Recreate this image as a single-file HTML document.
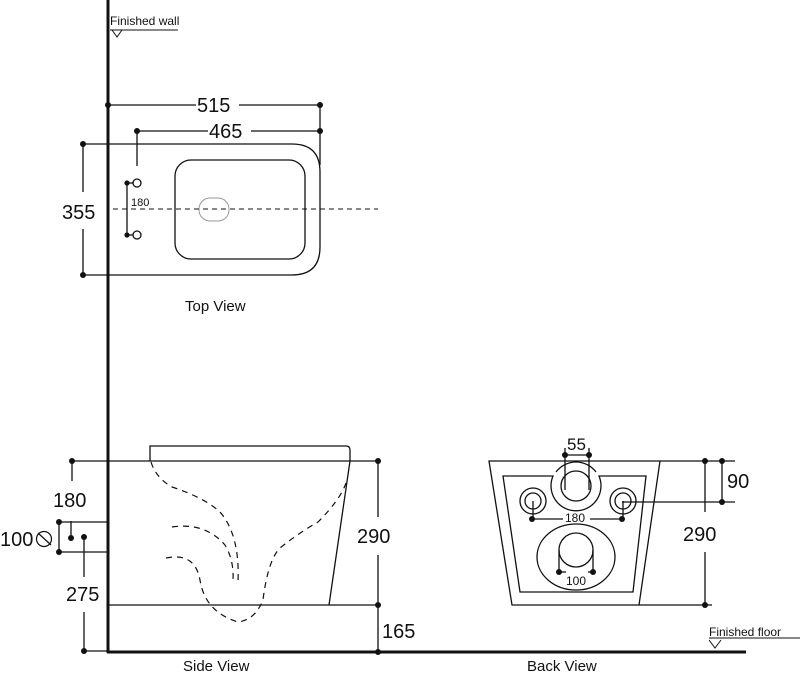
<!DOCTYPE html>
<html><head><style>
html,body{margin:0;padding:0;background:#fff;}
svg{display:block;}
text{font-family:"Liberation Sans",sans-serif;fill:#111;}
</style></head><body>
<svg width="800" height="674" viewBox="0 0 800 674" xmlns="http://www.w3.org/2000/svg">
<g stroke="#111" fill="none" stroke-width="1.3">
<line x1="108" y1="0" x2="108" y2="653" stroke-width="3"/>
<line x1="107" y1="652" x2="746" y2="652" stroke-width="3"/>
<line x1="110" y1="30" x2="178" y2="30" stroke-width="1"/>
<path d="M112 30 L117 37 L122 30" stroke-width="1"/>
<line x1="709" y1="638" x2="800" y2="638" stroke-width="1"/>
<path d="M709 640 L715 648 L721 640" stroke-width="1"/>

<line x1="108" y1="105" x2="196" y2="105"/><line x1="239" y1="105" x2="320" y2="105"/>
<line x1="137" y1="131" x2="208" y2="131"/><line x1="251" y1="131" x2="320" y2="131"/>
<line x1="320" y1="105" x2="320" y2="165"/>
<line x1="137" y1="131" x2="137" y2="166"/>
<path d="M83 144 L292 144 Q320 144 320 172 L320 247 Q320 275 292 275 L83 275"/>
<line x1="83" y1="144" x2="83" y2="192"/><line x1="83" y1="229" x2="83" y2="275"/>
<rect x="175" y="160" width="130" height="99" rx="16"/>
<rect x="199" y="198" width="30" height="23" rx="11" stroke="#999" stroke-width="1"/>
<line x1="113" y1="209" x2="378" y2="209" stroke-dasharray="5,4" stroke-width="1"/>
<line x1="127" y1="183" x2="127" y2="235"/>
<line x1="127" y1="183" x2="133" y2="183"/><line x1="127" y1="235" x2="133" y2="235"/>
<circle cx="137" cy="183" r="4"/><circle cx="137" cy="235" r="4"/>

<line x1="72" y1="461" x2="378" y2="461"/>
<path d="M150 461 L150 446 L346 446 Q350 446 350 450 L350 461"/>
<path d="M350 461 L329 605"/>
<line x1="108" y1="605" x2="378" y2="605"/>
<line x1="378" y1="461" x2="378" y2="517"/><line x1="378" y1="555" x2="378" y2="652"/>
<line x1="72" y1="461" x2="72" y2="481"/>
<line x1="59" y1="522" x2="108" y2="522"/><line x1="59" y1="552" x2="108" y2="552"/>
<line x1="59" y1="522" x2="59" y2="552"/>
<line x1="71" y1="521" x2="71" y2="538"/>
<line x1="84" y1="537" x2="84" y2="577"/><line x1="84" y1="612" x2="84" y2="651"/>
<line x1="84" y1="651" x2="108" y2="651"/>
<g stroke-dasharray="6,5" stroke-width="1.2">
<path d="M151 462 Q156 478 172 487 Q205 498 220 512 Q240 535 238 582"/>
<path d="M172 527 Q205 522 225 545 Q234 560 233 580"/>
<path d="M166 558 Q195 552 200 580 Q205 612 238 622 Q255 620 263 600 Q268 560 280 548 Q300 532 318 522 Q340 500 346 483"/>
</g>

<path d="M489 461 L660 461 L639 605 L512 605 Z"/>
<line x1="660" y1="461" x2="735" y2="461"/>
<line x1="622" y1="502" x2="735" y2="502"/>
<path d="M503 476 L553 476 A 25 25 0 1 0 599 476 L646 476 L633 592 L520 592 Z"/>
<path d="M556 472 A 25 25 0 0 1 596 472"/>
<circle cx="576" cy="486" r="15"/>
<circle cx="533" cy="501" r="13"/><circle cx="533" cy="501" r="8"/>
<circle cx="623" cy="501" r="13"/><circle cx="623" cy="501" r="8"/>
<line x1="533" y1="501" x2="533" y2="519"/><line x1="623" y1="501" x2="623" y2="519"/>
<line x1="532" y1="519" x2="563" y2="519"/><line x1="590" y1="519" x2="622" y2="519"/>
<ellipse cx="576" cy="557" rx="39" ry="33"/>
<circle cx="576" cy="550" r="17"/>
<line x1="559" y1="550" x2="559" y2="572"/><line x1="593" y1="550" x2="593" y2="572"/>
<line x1="559" y1="572" x2="566" y2="572"/><line x1="588" y1="572" x2="593" y2="572"/>
<line x1="565" y1="448" x2="565" y2="490"/><line x1="589" y1="448" x2="589" y2="490"/>
<line x1="565" y1="455" x2="589" y2="455"/>
<line x1="705" y1="461" x2="705" y2="512"/><line x1="705" y1="552" x2="705" y2="605"/>
<line x1="639" y1="605" x2="712" y2="605"/>
<line x1="722" y1="461" x2="722" y2="502"/>
</g>
<g fill="#111">
<circle cx="108" cy="105" r="3"/><circle cx="320" cy="105" r="3"/>
<circle cx="137" cy="131" r="3"/><circle cx="320" cy="131" r="3"/>
<circle cx="83" cy="144" r="3"/><circle cx="83" cy="275" r="3"/>
<circle cx="127" cy="183" r="2.6"/><circle cx="127" cy="235" r="2.6"/>
<circle cx="72" cy="461" r="3"/><circle cx="378" cy="461" r="3"/>
<circle cx="378" cy="605" r="3"/><circle cx="378" cy="652" r="3"/>
<circle cx="59" cy="522" r="3"/><circle cx="59" cy="552" r="3"/>
<circle cx="71" cy="538" r="3"/><circle cx="84" cy="537" r="3"/>
<circle cx="84" cy="651" r="3"/>
<circle cx="565" cy="455" r="3"/><circle cx="589" cy="455" r="3"/>
<circle cx="532" cy="519" r="3"/><circle cx="622" cy="519" r="3"/>
<circle cx="559" cy="572" r="3"/><circle cx="593" cy="572" r="3"/>
<circle cx="705" cy="461" r="3"/><circle cx="722" cy="461" r="3"/>
<circle cx="722" cy="502" r="3"/><circle cx="705" cy="605" r="3"/>
</g>
<text x="110" y="25" font-size="12">Finished wall</text>
<text x="709" y="636" font-size="12">Finished floor</text>
<text x="197" y="112" font-size="20">515</text>
<text x="209" y="138" font-size="20">465</text>
<text x="62" y="219" font-size="20">355</text>
<text x="131" y="206" font-size="11">180</text>
<text x="185" y="311" font-size="15">Top View</text>
<text x="53" y="507" font-size="20">180</text>
<text x="0" y="546" font-size="20">100</text>
<circle cx="44" cy="539" r="7.5" fill="none" stroke="#111" stroke-width="1.2"/>
<line x1="38" y1="533" x2="51" y2="545" stroke="#111" stroke-width="1.2"/>
<text x="66" y="601" font-size="20">275</text>
<text x="357" y="543" font-size="20">290</text>
<text x="382" y="638" font-size="20">165</text>
<text x="183" y="671" font-size="15">Side View</text>
<text x="527" y="671" font-size="15">Back View</text>
<text x="567" y="450" font-size="17">55</text>
<text x="565" y="522" font-size="12">180</text>
<text x="566" y="585" font-size="12">100</text>
<text x="727" y="488" font-size="20">90</text>
<text x="683" y="541" font-size="20">290</text>
</svg>
</body></html>
